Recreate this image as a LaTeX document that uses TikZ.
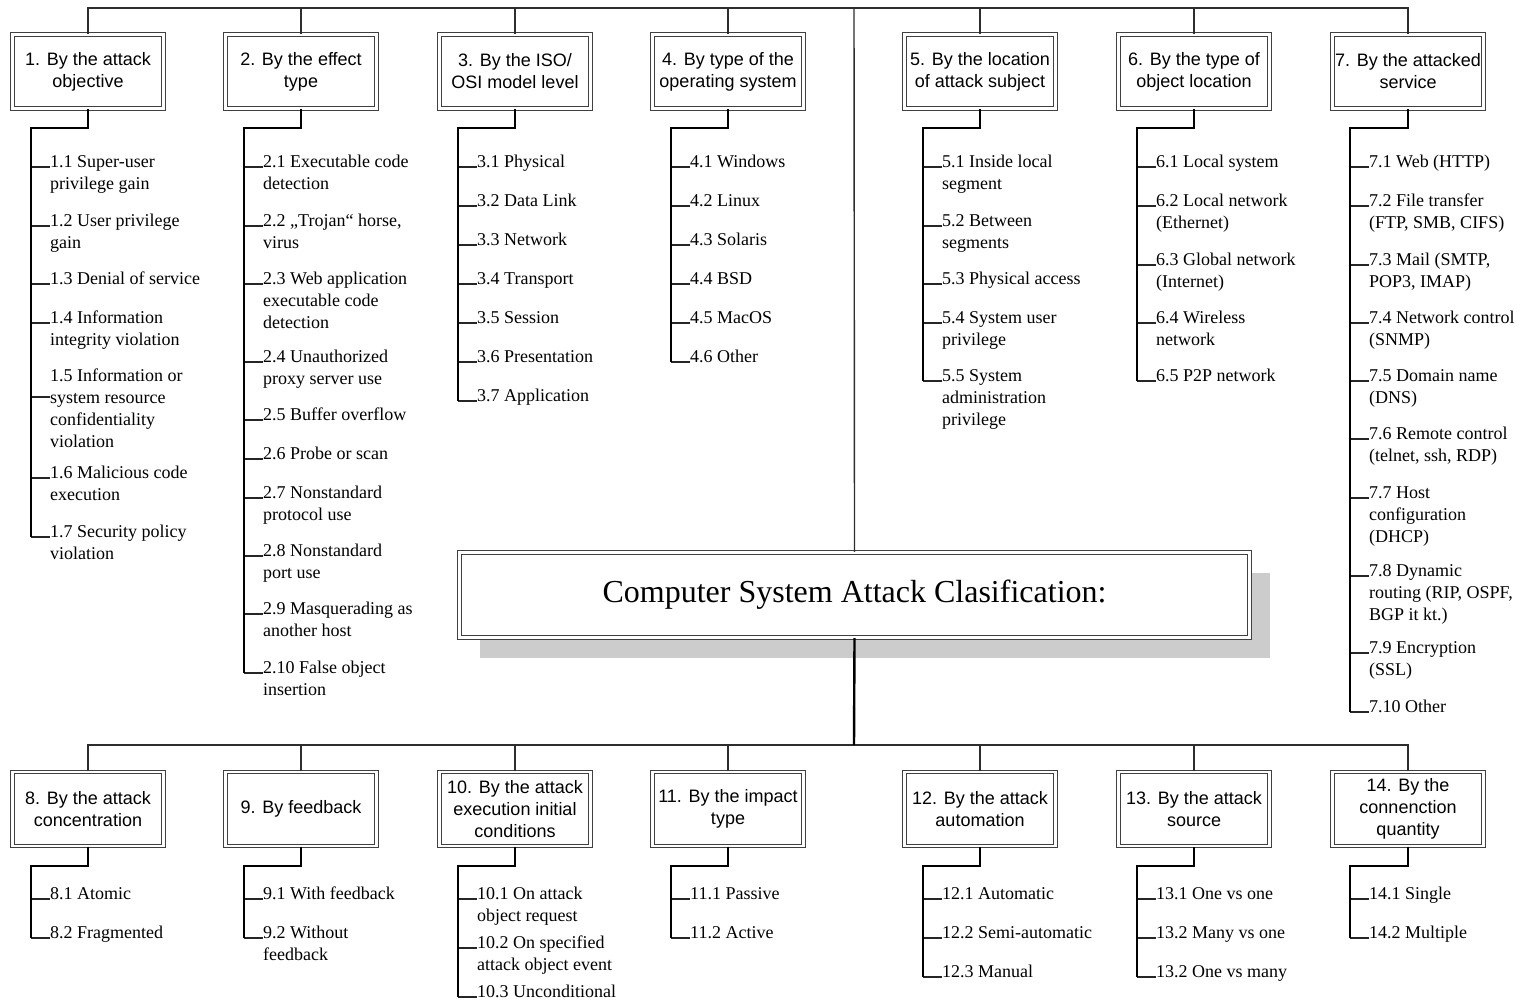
\documentclass[tikz,border=0pt]{standalone}
\usepackage{fontspec}
\setmainfont{Liberation Serif}
\setsansfont{Liberation Sans}
\usepackage{tikz}
\usetikzlibrary{positioning,calc,shadows}
\definecolor{linecol}{RGB}{45,45,45}
\definecolor{shadecol}{RGB}{204,204,204}
\newcommand{\leaf}[1]{\begin{tabular}[t]{@{}l@{}}#1\end{tabular}}
\tikzset{
  catbox/.style ={rectangle, draw=black!75, double=white, double distance=2.4pt, line width=1.1pt,
                  fill=white, align=center, minimum width=151pt, minimum height=74pt, inner sep=1pt,
                  font=\sffamily\fontsize{18}{22}\selectfont},
  rootbox/.style={rectangle, draw=black!75, double=white, double distance=2.4pt, line width=1.1pt,
                  fill=white, minimum width=790pt, minimum height=85pt,
                  font=\fontsize{32}{38}\selectfont,
                  drop shadow={shadow xshift=20pt, shadow yshift=-20pt, fill=shadecol, opacity=1}},
  item/.style   ={anchor=base west, inner sep=0pt, font=\fontsize{18}{22}\selectfont},
  bus/.style    ={draw=linecol, line width=1.4pt},
  trunk/.style  ={draw=black, line width=2.4pt},
  spine/.style  ={draw=black, line width=2pt},
  tick/.style   ={draw=black!85, line width=1.3pt},
}

\begin{document}
\begin{tikzpicture}[x=1pt, y=-1pt]
  \useasboundingbox (0,0) rectangle (1522,999);

  \node[rootbox] (root) at (854.5,595) {Computer System Attack Clasification:};
  \coordinate (topbus) at (854,8);
  \coordinate (botbus) at (854,745);

  \node[catbox] (c1) at (88,71.5)   {1. By the attack\\objective};
  \node[catbox] (c2) at (301,71.5)  {2. By the effect\\type};
  \node[catbox] (c3) at (515,71.5)  {3. By the ISO/\\OSI model level};
  \node[catbox] (c4) at (728,71.5)  {4. By type of the\\operating system};
  \node[catbox] (c5) at (980,71.5)  {5. By the location\\of attack subject};
  \node[catbox] (c6) at (1194,71.5) {6. By the type of\\object location};
  \node[catbox] (c7) at (1408,71.5) {7. By the attacked\\service};

  \node[catbox] (c8)  at (88,809)   {8. By the attack\\concentration};
  \node[catbox] (c9)  at (301,809)  {9. By feedback};
  \node[catbox] (c10) at (515,809)  {10. By the attack\\execution initial\\conditions};
  \node[catbox] (c11) at (728,809)  {11. By the impact\\type};
  \node[catbox] (c12) at (980,809)  {12. By the attack\\automation};
  \node[catbox] (c13) at (1194,809) {13. By the attack\\source};
  \node[catbox] (c14) at (1408,809) {14. By the\\connenction\\quantity};

  \foreach \i in {1,...,7} \draw[bus] (c\i.north) |- (topbus);
  \draw[bus] (root.north) -- (topbus);
  \foreach \i in {8,...,14} \draw[bus] (c\i.north) |- (botbus);
  \draw[trunk] (root.south) -- (botbus);

  \coordinate (s1) at (31,128);   \coordinate (s2) at (244,128);  \coordinate (s3) at (458,128);
  \coordinate (s4) at (671,128);  \coordinate (s5) at (923,128);  \coordinate (s6) at (1137,128);
  \coordinate (s7) at (1350,128);
  \coordinate (s8) at (31,866);   \coordinate (s9) at (244,866);  \coordinate (s10) at (458,866);
  \coordinate (s11) at (671,866); \coordinate (s12) at (923,866); \coordinate (s13) at (1137,866);
  \coordinate (s14) at (1350,866);

  \foreach \y/\o/\t [count=\k] in {167/0/{1.1 Super-user\\privilege gain}, 226/0/{1.2 User privilege\\gain},
      284/0/{1.3 Denial of service}, 323/0/{1.4 Information\\integrity violation},
      397/16/{1.5 Information or\\system resource\\confidentiality\\violation},
      478/0/{1.6 Malicious code\\execution}, 537/0/{1.7 Security policy\\violation}} {
    \node[item] (i1-\k) at (50,\y-\o) {\leaf{\t}};
    \draw[tick] ([yshift=-\o pt]i1-\k.base west) -- ++(-19,0);
  }
  \foreach \y/\t [count=\k] in {167/{2.1 Executable code\\detection}, 226/{2.2 „Trojan“ horse,\\virus},
      284/{2.3 Web application\\executable code\\detection}, 362/{2.4 Unauthorized\\proxy server use},
      420/{2.5 Buffer overflow}, 459/{2.6 Probe or scan}, 498/{2.7 Nonstandard\\protocol use},
      556/{2.8 Nonstandard\\port use}, 614/{2.9 Masquerading as\\another host},
      673/{2.10 False object\\insertion}} {
    \node[item] (i2-\k) at (263,\y) {\leaf{\t}};
    \draw[tick] (i2-\k.base west) -- ++(-19,0);
  }
  \foreach \y/\t [count=\k] in {167/{3.1 Physical}, 206/{3.2 Data Link}, 245/{3.3 Network},
      284/{3.4 Transport}, 323/{3.5 Session}, 362/{3.6 Presentation}, 401/{3.7 Application}} {
    \node[item] (i3-\k) at (477,\y) {\leaf{\t}};
    \draw[tick] (i3-\k.base west) -- ++(-19,0);
  }
  \foreach \y/\t [count=\k] in {167/{4.1 Windows}, 206/{4.2 Linux}, 245/{4.3 Solaris},
      284/{4.4 BSD}, 323/{4.5 MacOS}, 362/{4.6 Other}} {
    \node[item] (i4-\k) at (690,\y) {\leaf{\t}};
    \draw[tick] (i4-\k.base west) -- ++(-19,0);
  }
  \foreach \y/\t [count=\k] in {167/{5.1 Inside local\\segment}, 226/{5.2 Between\\segments},
      284/{5.3 Physical access}, 323/{5.4 System user\\privilege},
      381/{5.5 System\\administration\\privilege}} {
    \node[item] (i5-\k) at (942,\y) {\leaf{\t}};
    \draw[tick] (i5-\k.base west) -- ++(-19,0);
  }
  \foreach \y/\t [count=\k] in {167/{6.1 Local system}, 206/{6.2 Local network\\(Ethernet)},
      265/{6.3 Global network\\(Internet)}, 323/{6.4 Wireless\\network}, 381/{6.5 P2P network}} {
    \node[item] (i6-\k) at (1156,\y) {\leaf{\t}};
    \draw[tick] (i6-\k.base west) -- ++(-19,0);
  }
  \foreach \y/\t [count=\k] in {167/{7.1 Web (HTTP)}, 206/{7.2 File transfer\\(FTP, SMB, CIFS)},
      265/{7.3 Mail (SMTP,\\POP3, IMAP)}, 323/{7.4 Network control\\(SNMP)},
      381/{7.5 Domain name\\(DNS)}, 439/{7.6 Remote control\\(telnet, ssh, RDP)},
      498/{7.7 Host\\configuration\\(DHCP)}, 576/{7.8 Dynamic\\routing (RIP, OSPF,\\BGP it kt.)},
      653/{7.9 Encryption\\(SSL)}, 712/{7.10 Other}} {
    \node[item] (i7-\k) at (1369,\y) {\leaf{\t}};
    \draw[tick] (i7-\k.base west) -- ++(-19,0);
  }

  \foreach \y/\t [count=\k] in {899/{8.1 Atomic}, 938/{8.2 Fragmented}} {
    \node[item] (i8-\k) at (50,\y) {\leaf{\t}};
    \draw[tick] (i8-\k.base west) -- ++(-19,0);
  }
  \foreach \y/\t [count=\k] in {899/{9.1 With feedback}, 938/{9.2 Without\\feedback}} {
    \node[item] (i9-\k) at (263,\y) {\leaf{\t}};
    \draw[tick] (i9-\k.base west) -- ++(-19,0);
  }
  \foreach \y/\t [count=\k] in {899/{10.1 On attack\\object request},
      948/{10.2 On specified\\attack object event}, 997/{10.3 Unconditional}} {
    \node[item] (i10-\k) at (477,\y) {\leaf{\t}};
    \draw[tick] (i10-\k.base west) -- ++(-19,0);
  }
  \foreach \y/\t [count=\k] in {899/{11.1 Passive}, 938/{11.2 Active}} {
    \node[item] (i11-\k) at (690,\y) {\leaf{\t}};
    \draw[tick] (i11-\k.base west) -- ++(-19,0);
  }
  \foreach \y/\t [count=\k] in {899/{12.1 Automatic}, 938/{12.2 Semi-automatic}, 977/{12.3 Manual}} {
    \node[item] (i12-\k) at (942,\y) {\leaf{\t}};
    \draw[tick] (i12-\k.base west) -- ++(-19,0);
  }
  \foreach \y/\t [count=\k] in {899/{13.1 One vs one}, 938/{13.2 Many vs one}, 977/{13.2 One vs many}} {
    \node[item] (i13-\k) at (1156,\y) {\leaf{\t}};
    \draw[tick] (i13-\k.base west) -- ++(-19,0);
  }
  \foreach \y/\t [count=\k] in {899/{14.1 Single}, 938/{14.2 Multiple}} {
    \node[item] (i14-\k) at (1369,\y) {\leaf{\t}};
    \draw[tick] (i14-\k.base west) -- ++(-19,0);
  }

  \draw[spine] (c1.south) |- (s1) -- (s1 |- i1-7.base west);
  \draw[spine] (c2.south) |- (s2) -- (s2 |- i2-10.base west);
  \draw[spine] (c3.south) |- (s3) -- (s3 |- i3-7.base west);
  \draw[spine] (c4.south) |- (s4) -- (s4 |- i4-6.base west);
  \draw[spine] (c5.south) |- (s5) -- (s5 |- i5-5.base west);
  \draw[spine] (c6.south) |- (s6) -- (s6 |- i6-5.base west);
  \draw[spine] (c7.south) |- (s7) -- (s7 |- i7-10.base west);
  \draw[spine] (c8.south) |- (s8) -- (s8 |- i8-2.base west);
  \draw[spine] (c9.south) |- (s9) -- (s9 |- i9-2.base west);
  \draw[spine] (c10.south) |- (s10) -- (s10 |- i10-3.base west);
  \draw[spine] (c11.south) |- (s11) -- (s11 |- i11-2.base west);
  \draw[spine] (c12.south) |- (s12) -- (s12 |- i12-3.base west);
  \draw[spine] (c13.south) |- (s13) -- (s13 |- i13-3.base west);
  \draw[spine] (c14.south) |- (s14) -- (s14 |- i14-2.base west);
\end{tikzpicture}
\end{document}
